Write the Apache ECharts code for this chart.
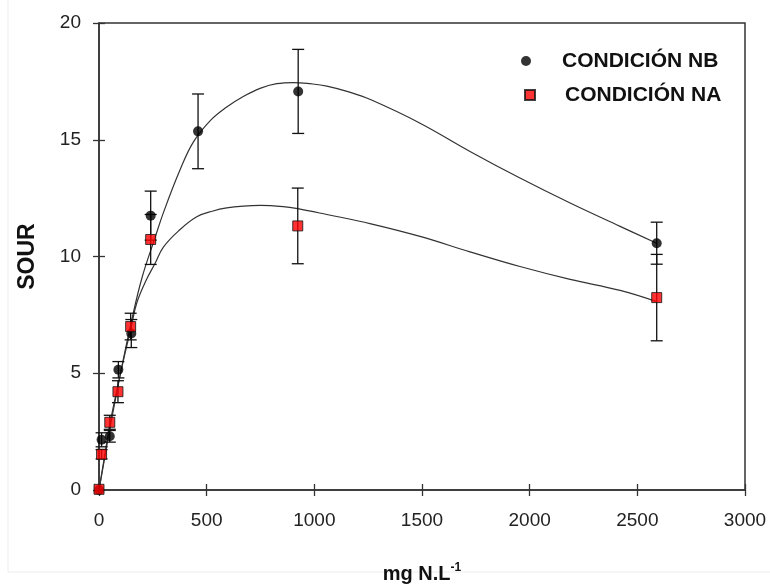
<!DOCTYPE html>
<html>
<head>
<meta charset="utf-8">
<script src="https://cdn.jsdelivr.net/npm/echarts@6/dist/echarts.min.js"></script>
<style>html,body{margin:0;padding:0;background:#fff;}#c{width:770px;height:586px;}</style>
</head>
<body>
<div id="c"></div>
<script>
// ---- data ----
const nbX   = [0, 12, 50, 90, 150, 240, 460, 925, 2590];
const nbY   = [0, 2.15, 2.3, 5.15, 6.7, 11.75, 15.36, 17.07, 10.57];
const nbErr = [0, 0.3, 0.25, 0.35, 0.6, 1.05, 1.6, 1.8, 0.9];

const naX   = [0, 12, 50, 88, 147, 240, 923, 2590];
const naY   = [0.03, 1.53, 2.9, 4.21, 7.0, 10.73, 11.31, 8.24];
const naErr = [0, 0.2, 0.3, 0.47, 0.57, 1.07, 1.62, 1.85];

// fitted curves
const nbCurveX = [0, 25, 50, 100, 150, 200, 260, 300, 376, 438, 520, 593, 670, 748, 825, 903, 980, 1058, 1160, 1263, 1491, 1723, 1955, 2188, 2420, 2590];
const nbCurveY = [0, 1.3, 2.6, 5.0, 7.2, 9.1, 10.8, 11.9, 13.7, 14.9, 15.85, 16.4, 16.85, 17.2, 17.4, 17.45, 17.4, 17.3, 17.05, 16.71, 15.71, 14.5, 13.36, 12.29, 11.29, 10.57];
const naCurveX = [0, 25, 50, 100, 150, 175, 220, 260, 299, 370, 454, 530, 593, 670, 748, 855, 923, 1058, 1263, 1491, 1723, 1955, 2188, 2420, 2590];
const naCurveY = [0, 1.4, 2.8, 5.0, 7.0, 8.0, 9.0, 9.7, 10.4, 11.1, 11.7, 11.95, 12.08, 12.16, 12.19, 12.14, 12.05, 11.8, 11.4, 10.86, 10.2, 9.57, 9.02, 8.55, 8.07];

const nameNB = 'CONDICIÓN NB';
const nameNA = 'CONDICIÓN NA';
const xTitle = 'mg N.L';
const xTitleSup = '-1';
const yTitle = 'SOUR';

// ---- build ----
const zip = (a, b, c) => a.map((v, i) => c ? [v, b[i], c[i]] : [v, b[i]]);
const FONT = '"Liberation Sans", Arial, sans-serif';
const AX = '#333';

function errRender(params, api) {
  const x = api.value(0), y = api.value(1), e = api.value(2);
  if (!e) return null;
  const t = api.coord([x, y + e]), b = api.coord([x, y - e]);
  const hw = 6, st = {stroke: '#111', lineWidth: 1.3};
  return {type: 'group', children: [
    {type: 'line', shape: {x1: t[0], y1: t[1], x2: b[0], y2: b[1]}, style: st},
    {type: 'line', shape: {x1: t[0] - hw, y1: t[1], x2: t[0] + hw, y2: t[1]}, style: st},
    {type: 'line', shape: {x1: b[0] - hw, y1: b[1], x2: b[0] + hw, y2: b[1]}, style: st}
  ]};
}

const xBase = {type: 'value', min: 0, max: 3000, interval: 500, position: 'bottom',
  splitLine: {show: false}};
const yBase = {type: 'value', min: 0, max: 20, interval: 5, position: 'left',
  splitLine: {show: false}};
const plain = v => String(v);

const chart = echarts.init(document.getElementById('c'), null, {renderer: 'canvas'});
chart.setOption({
  animation: false,
  backgroundColor: '#fff',
  textStyle: {fontFamily: FONT},
  grid: {left: 99, right: 25, top: 23, bottom: 96, show: true, borderColor: AX, borderWidth: 1.5,
    outerBoundsMode: 'none', containLabel: false},
  graphic: [{type: 'rect', shape: {x: 8, y: -5, width: 800, height: 577},
    style: {fill: 'none', stroke: '#ececec', lineWidth: 1}, silent: true, z: -10}],
  legend: [
    {data: [nameNB], left: 516, top: 45, itemWidth: 10, itemHeight: 10, icon: 'circle',
      textStyle: {fontFamily: FONT, fontWeight: 'bold', fontSize: 21, color: '#111', lineHeight: 22, padding: [0, 0, 0, 26]}},
    {data: [nameNA], left: 519, top: 79, itemWidth: 10, itemHeight: 10, icon: 'rect',
      textStyle: {fontFamily: FONT, fontWeight: 'bold', fontSize: 21, color: '#111', lineHeight: 22, padding: [0, 0, 0, 25]}}
  ],
  xAxis: [
    Object.assign({}, xBase, {
      axisLine: {show: true, lineStyle: {color: AX, width: 1.5}},
      axisTick: {show: true, inside: false, length: 6, lineStyle: {color: AX, width: 1.3}},
      axisLabel: {margin: 21, fontSize: 19, color: '#222', fontFamily: FONT, formatter: plain},
      name: '{b|' + xTitle + '}{s|' + xTitleSup + '}', nameLocation: 'middle', nameGap: 72,
      nameTextStyle: {rich: {
        b: {fontFamily: FONT, fontWeight: 'bold', fontSize: 20, color: '#111', verticalAlign: 'bottom', lineHeight: 22},
        s: {fontFamily: FONT, fontWeight: 'bold', fontSize: 12, color: '#111', verticalAlign: 'top', lineHeight: 22, padding: [0, 0, 8, 0]}
      }}
    }),
    Object.assign({}, xBase, {
      axisLine: {show: false}, axisLabel: {show: false},
      axisTick: {show: true, inside: true, length: 6, lineStyle: {color: AX, width: 1.3}}
    })
  ],
  yAxis: [
    Object.assign({}, yBase, {
      axisLine: {show: true, lineStyle: {color: AX, width: 1.5}},
      axisTick: {show: true, inside: false, length: 6, lineStyle: {color: AX, width: 1.3}},
      axisLabel: {margin: 18, fontSize: 19, color: '#222', fontFamily: FONT, formatter: plain},
      name: yTitle, nameLocation: 'middle', nameRotate: 90, nameGap: 60,
      nameTextStyle: {fontFamily: FONT, fontWeight: 'bold', fontSize: 23, color: '#111'}
    }),
    Object.assign({}, yBase, {
      axisLine: {show: false}, axisLabel: {show: false},
      axisTick: {show: true, inside: true, length: 6, lineStyle: {color: AX, width: 1.3}}
    })
  ],
  series: [
    {type: 'line', name: 'fitNB', data: zip(nbCurveX, nbCurveY), smooth: 0.4,
      showSymbol: false, symbol: 'none', lineStyle: {color: '#333', width: 1.2}, z: 2, silent: true},
    {type: 'line', name: 'fitNA', data: zip(naCurveX, naCurveY), smooth: 0.4,
      showSymbol: false, symbol: 'none', lineStyle: {color: '#333', width: 1.2}, z: 2, silent: true},
    {type: 'custom', name: 'errNB', data: zip(nbX, nbY, nbErr), renderItem: errRender,
      encode: {x: 0, y: 1}, z: 3, silent: true},
    {type: 'custom', name: 'errNA', data: zip(naX, naY, naErr), renderItem: errRender,
      encode: {x: 0, y: 1}, z: 3, silent: true},
    {type: 'scatter', name: nameNB, data: zip(nbX, nbY), symbol: 'circle', symbolSize: 10,
      itemStyle: {color: '#000', borderColor: '#000', borderWidth: 0}, z: 4},
    {type: 'scatter', name: nameNA, data: zip(naX, naY), symbol: 'rect', symbolSize: 10,
      itemStyle: {color: '#ff0000', borderColor: '#111', borderWidth: 1}, z: 5}
  ]
});
</script>
</body>
</html>
